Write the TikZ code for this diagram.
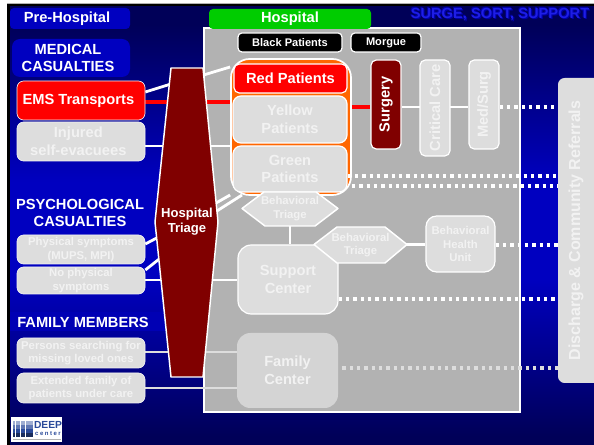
\documentclass[tikz,border=0pt]{standalone}
\usepackage{fontspec}
\setmainfont{Liberation Sans}
\pgfdeclarelayer{back}\pgfdeclarelayer{conn}
\pgfsetlayers{back,conn,main}
\definecolor{bgdark}{HTML}{000058}
\definecolor{bgblue}{HTML}{0000C0}
\definecolor{panel}{HTML}{B2B2B2}
\definecolor{soft}{HTML}{DDDDDD}
\definecolor{softtext}{HTML}{F2F2F2}
\definecolor{maroon}{HTML}{800000}
\definecolor{orangebox}{HTML}{FF6600}
\definecolor{greenbox}{HTML}{00CC00}
\definecolor{headblue}{HTML}{0000C0}
\definecolor{tagblue}{HTML}{1E1EE6}
\definecolor{tagedge}{HTML}{0000A8}
\definecolor{bandblue}{HTML}{0000B4}
\definecolor{logoblue}{HTML}{2A4A9A}
\pgfdeclareverticalshading{slidebg}{100bp}{color(0bp)=(bgdark);color(26bp)=(bgdark);color(44bp)=(bgblue);color(55bp)=(bgblue);color(73bp)=(bgdark);color(100bp)=(bgdark)}
\newcommand{\bsize}{\fontsize{11}{13.2}\selectfont\bfseries}
\newcommand{\ssize}{\fontsize{8.5}{10}\selectfont\bfseries}
\tikzset{
  x=0.75pt,y=-0.75pt,
  box/.style={rounded corners=#1,draw=white,line width=0.9pt,inner sep=0,align=center,text=softtext,font=\ssize,fill=soft},
  box/.default=5pt,
  lbox/.style={box,draw=softtext,line width=0.5pt},
  head/.style={text=white,font=\bsize,align=center,inner sep=0},
  hex/.style={fill=soft,draw=white,line width=1.1pt,line join=round},
  wline/.style={white,line width=2.1pt},
  rline/.style={red,line width=2.4pt},
  gline/.style={soft,line width=2.1pt},
  dotline/.style={white,line width=2.6pt,dash pattern=on 2.6pt off 2.9pt},
  gdotline/.style={soft,line width=2.6pt,dash pattern=on 2.6pt off 2.9pt},
  tagtext/.style={font=\bsize,inner sep=0},
}
\newcommand{\placebox}[6]{% style, name, x0, y0, x1, y1 ; text follows
  \node[#1,minimum width={(#5-#3)*0.75pt},minimum height={(#6-#4)*0.75pt}] (#2) at ({(#3+#5)/2},{(#4+#6)/2})}
\begin{document}
\begin{tikzpicture}
\useasboundingbox (0,0) rectangle (594,445);
\begin{pgfonlayer}{back}
  \fill[white] (0,0) rectangle (594,445);
  \fill[gray!60] (7,3) rectangle (594,4.5);
  \fill[black] (7,4) rectangle (594,445);
  \shade[shading=slidebg] (10,7) rectangle (594,445);
  \fill[headblue,rounded corners=3pt] (10,8) rectangle (130,29);
  \fill[headblue,rounded corners=6pt] (12,39) rectangle (130,77);
  \fill[bandblue] (10,312) rectangle (165,331);
  \fill[panel,draw=white,line width=1.1pt] (204,28) rectangle (520,412);
\end{pgfonlayer}

% headers
\node[head] (pre) at (67,19) {Pre-Hospital};
\node[head] (med) at (68,58) {MEDICAL\\CASUALTIES};
\node[head] (psy) at (80,213) {PSYCHOLOGICAL\\CASUALTIES};
\node[head] (fam) at (83,322) {FAMILY MEMBERS};
\node[tagtext,text=tagedge] (tagb) at (501.2,15.7) {SURGE, SORT, SUPPORT};
\node[tagtext,text=tagedge] (tagc) at (499.2,13.7) {SURGE, SORT, SUPPORT};
\node[tagtext,text=tagblue] (tag) at (500,14.7) {SURGE, SORT, SUPPORT};

% left column
\placebox{lbox,fill=red,font=\bsize,text=white}{ems}{17}{81}{145}{120} {\hspace*{-4pt}EMS Transports};
\placebox{lbox,font=\bsize}{inj}{17}{122}{145}{161} {\hspace*{-4pt}Injured\\\hspace*{-4pt}self-evacuees};
\placebox{lbox}{phy}{17}{235}{145}{264} {Physical symptoms\\(MUPS, MPI)};
\placebox{lbox}{nop}{17}{267}{145}{294} {No physical\\symptoms};
\placebox{lbox}{per}{17}{338}{145}{368} {Persons searching for\\missing loved ones};
\placebox{lbox}{ext}{17}{373}{145}{403} {Extended family of\\patients under care};

% hospital header, black boxes
\placebox{fill=greenbox,rounded corners=3pt,inner sep=0,text=white,font=\bsize}{hos}{209}{9}{371}{29} {Hospital};
\placebox{box=3pt,fill=black,text=white,font={\fontsize{8.3}{10}\selectfont\bfseries}}{blk}{238}{33}{342}{52} {Black Patients};
\placebox{box=3pt,fill=black,text=white,font={\fontsize{8.3}{10}\selectfont\bfseries}}{mor}{351}{33}{421}{52} {Morgue};

% patient group
\placebox{box=14pt,fill=orangebox,line width=1.3pt}{grp}{231}{59}{351}{195} {};
\placebox{box=4pt,fill=red,text=white,font=\bsize}{redp}{234}{64}{347}{93} {Red Patients};
\placebox{box=6pt,font=\bsize}{yel}{233}{96}{347}{143} {Yellow\\Patients};
\placebox{box=6pt,font=\bsize}{gre}{233}{146}{347}{192} {Green\\Patients};

% wards
\node[box=4pt,fill=maroon,text=white,font=\bsize,rotate=90,minimum width=66.75pt,minimum height=22.5pt] (sur) at (386,104.5) {Surgery};
\node[box=4pt,font=\bsize,rotate=90,minimum width=72pt,minimum height=22.5pt] (cri) at (435,108) {Critical Care};
\node[box=4pt,font=\bsize,rotate=90,minimum width=66.75pt,minimum height=22.5pt] (mes) at (484,104.5) {Med/Surg};
\node[rotate=90,fill=soft,rounded corners=5pt,inner sep=0,minimum width=228.75pt,minimum height=36pt] (dbox) at (582,230.5) {};
\node[inner sep=0,text=softtext,font={\fontsize{12}{14}\selectfont\bfseries},rotate=90] (dis) at (576,230.5) {Discharge \& Community Referrals};

% support units
\placebox{box=10pt,font=\bsize}{sup}{238}{245}{338}{314} {Support\\Center};
\placebox{box=8pt}{bhu}{426}{216}{495}{272} {Behavioral\\Health\\Unit};
\placebox{fill=soft!96!black,rounded corners=10pt,inner sep=0,text=softtext,font=\bsize,align=center}{fac}{237}{333}{338}{408} {Family\\Center};

% behavioural triage hexagons
\draw[hex] (242,208.5) coordinate (hexw) -- (264,192) -- (316,192) -- (338,208.5) -- (315,226) -- (265,226) -- cycle;
\node[inner sep=0,text=softtext,font=\ssize,align=center] (bt1) at (290,208.5) {Behavioral\\Triage};
\draw[hex] (314,244.5) -- (337,227) -- (385,227) -- (407,244.5) -- (385,263) -- (337,263) -- cycle;
\node[inner sep=0,text=softtext,font=\ssize,align=center] (bt2) at (360.5,245) {Behavioral\\Triage};

% hospital triage
\draw[fill=maroon,draw=white,line width=1.1pt,line join=round] (171,68) -- (203,68) -- (218,222) -- (203,377) -- (171,377) -- (155,222) -- cycle;
\node[inner sep=0,text=white,font={\fontsize{9.8}{11.2}\selectfont\bfseries},align=center] (tri) at (187,222) {Hospital\\Triage};

% connectors behind the nodes
\begin{pgfonlayer}{conn}
  \draw[wline] (ems.east |- 0,92) -- (tri.center |- 0,79);
  \draw[wline] (tri.center |- 0,80) -- (grp.west |- 0,67);
  \draw[rline] (ems.east |- 0,102) -- (grp.west |- 0,102);
  \draw[wline] (inj.east |- 0,146) -- (grp.west |- 0,146);
  \draw[wline] (tri.center |- 0,219.5) -- (grp.west |- 0,195);
  \draw[wline] (tri.center |- 0,230) -- (hexw |- 0,195);
  \draw[wline] (phy.east |- 0,244) -- (tri.center |- 0,222);
  \draw[wline] (nop.east |- 0,270) -- (tri.center |- 0,237);
  \draw[wline] (nop.east |- 0,280) -- (tri.center |- 0,280);
  \draw[wline] (tri.center |- 0,280) -- (sup.west |- 0,280);
  \draw[gline] (per.east |- 0,352) -- (fac.west |- 0,352);
  \draw[gline] (ext.east |- 0,388) -- (fac.west |- 0,388);
  \draw[wline] (bt1.south |- 0,226) -- (bt1.south |- sup.north);
  \draw[wline] (bt2.center |- 0,244.5) -- (bhu.west |- 0,244.5);
  \draw[rline] (grp.east |- 0,107) -- (sur.north |- 0,107);
  \draw[wline] (sur.south |- 0,107) -- (mes.north |- 0,107);
\end{pgfonlayer}

% dotted referrals
\draw[dotline] (mes.south |- 0,107) -- (dbox.north |- 0,107);
\draw[dotline] (gre.east |- 0,176) -- (dbox.north |- 0,176);
\draw[dotline] (grp.east |- 0,186) -- (dbox.north |- 0,186);
\draw[dotline] (bhu.east |- 0,245) -- (dbox.north |- 0,245);
\draw[dotline] (sup.east |- 0,299) -- (dbox.north |- 0,299);
\draw[gdotline] ([xshift=3pt]fac.east |- 0,368) -- (dbox.north |- 0,368);

% logo
\fill[white] (11,417) rectangle (62,442);
\foreach \i in {0,...,7} \foreach \j/\c in {0/logoblue!45!white,1/logoblue!75!white,2/logoblue,3/logoblue!60!black}
  \fill[\c] ({13+\i*2.55},{421+\j*4}) rectangle ++(2.25,3.6);
\node[inner sep=0,text=logoblue,font={\fontsize{7.7}{8}\selectfont\bfseries}] (deep) at (48,424.5) {DEEP};
\node[inner sep=0,text=logoblue,font={\fontsize{4.5}{5}\selectfont\bfseries\addfontfeature{LetterSpace=25}}] (cen) at (48,433.5) {center};
\fill[gray!60] (13,439) rectangle (61,440);
\end{tikzpicture}
\end{document}
